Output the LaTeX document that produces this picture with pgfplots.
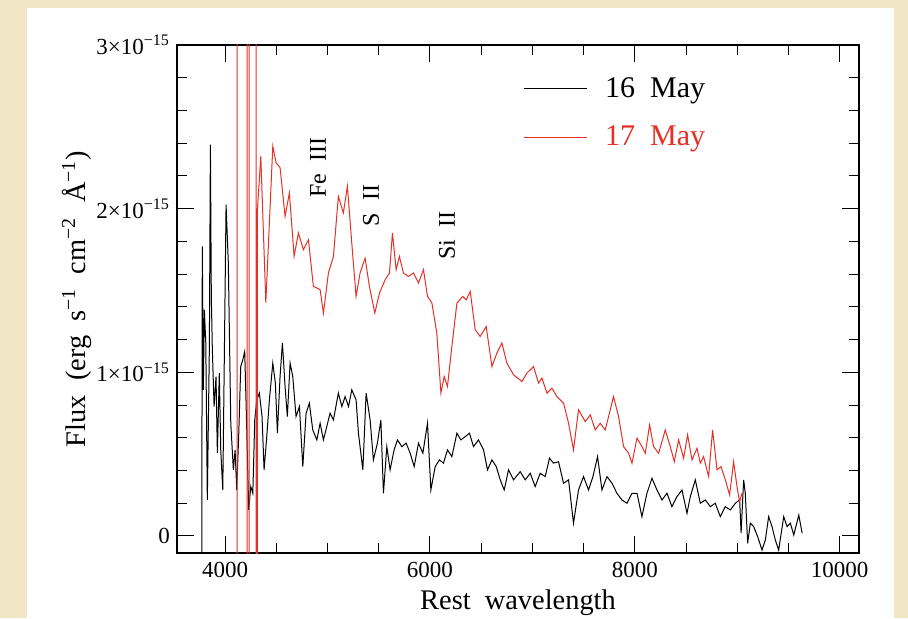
\documentclass[border=0pt]{standalone}
\usepackage{fontspec}
\setmainfont{Liberation Serif}
\usepackage{pgfplots}
\pgfplotsset{compat=1.18}
\definecolor{specred}{RGB}{228,48,38}
\definecolor{beige}{HTML}{F1E7C6}

\begin{document}
\begin{tikzpicture}
\useasboundingbox (0,0) rectangle (454pt,309pt);
\fill[beige] (0,0) rectangle (454pt,309pt);
\fill[white] (13.4pt,0) rectangle (447pt,305pt);
\begin{axis}[
    at={(88.5pt,32.5pt)}, anchor=south west,
    scale only axis,
    width=341pt, height=254pt,
    xmin=3531, xmax=10188,
    ymin=-0.104, ymax=3.0,
    xtick={4000,6000,8000,10000},
    scaled x ticks=false,
    minor x tick num=3,
    ytick={0,1,2,3},
    yticklabels={0, 1×10\textsuperscript{−15}, 2×10\textsuperscript{−15}, 3×10\textsuperscript{−15}},
    minor y tick num=4,
    tick align=inside,
    major tick length=8.5pt,
    minor tick length=5pt,
    every tick/.style={black, line width=0.5pt},
    axis line style={line width=0.6pt},
    /pgf/number format/assume math mode=true,
    /pgf/number format/1000 sep={},
    tick label style={font=\fontsize{11.5}{13}\selectfont},
    xticklabel style={yshift=-1pt},
    xlabel={Rest\ \ wavelength},
    ylabel={Flux\ \ (erg\ \ s\textsuperscript{−1}\ \ cm\textsuperscript{−2}\ \ Å\textsuperscript{−1})},
    every axis x label/.style={at={(axis description cs:0.5,-0.097)}, anchor=center,
        font=\fontsize{14.2}{16}\selectfont},
    every axis y label/.style={at={(axis description cs:-0.147,0.5)}, anchor=center, rotate=90,
        font=\fontsize{14.2}{16}\selectfont},
    legend style={at={(axis description cs:0.507,0.945)}, anchor=north west, draw=none, fill=none,
        font=\fontsize{15}{17}\selectfont, row sep=9pt, inner xsep=0pt, inner ysep=0pt},
    legend cell align=left,
    legend image code/.code={\draw[#1] (0pt,0pt) -- (31.5pt,0pt); \path (38.5pt,0pt);},
]
\addplot[black, line width=0.5pt] coordinates {
(3772,-0.3) (3778,1.769) (3788,0.893) (3798,1.382) (3812,1.179) (3827,0.220) (3847,1.158)
(3857,2.391) (3866,1.464) (3876,1.138) (3893,0.791) (3912,0.974) (3925,0.506) (3944,0.995)
(3958,0.526) (3978,0.281) (3990,0.934) (4010,2.024) (4032,1.668) (4056,0.689) (4081,0.404)
(4098,0.526) (4114,0.281) (4134,0.628) (4153,1.035) (4173,1.076) (4192,1.127) (4212,0.648)
(4231,0.159) (4251,0.302) (4271,0.261) (4290,0.709) (4310,0.832) (4335,0.873) (4361,0.730)
(4381,0.404) (4407,0.607) (4433,0.832) (4466,1.056) (4491,0.934) (4511,0.628) (4537,0.974)
(4560,1.179) (4586,0.913) (4608,0.730) (4635,1.056) (4661,0.974) (4693,0.730) (4726,0.791)
(4759,0.424) (4791,0.750) (4823,0.812) (4856,0.648) (4896,0.587) (4928,0.689) (4960,0.587)
(4993,0.669) (5025,0.750) (5058,0.709) (5106,0.873) (5140,0.791) (5172,0.852) (5205,0.791)
(5237,0.893) (5279,0.832) (5302,0.628) (5345,0.404) (5377,0.873) (5416,0.709) (5448,0.465)
(5487,0.567) (5521,0.709) (5546,0.261) (5579,0.546) (5611,0.404) (5650,0.526) (5683,0.587)
(5726,0.546) (5768,0.567) (5807,0.506) (5846,0.424) (5888,0.567) (5931,0.506) (5976,0.689)
(6009,0.281) (6051,0.424) (6093,0.465) (6132,0.445) (6171,0.526) (6214,0.485) (6263,0.628)
(6302,0.587) (6344,0.607) (6386,0.628) (6425,0.546) (6474,0.587) (6523,0.526) (6562,0.404)
(6605,0.465) (6647,0.424) (6686,0.343) (6725,0.281) (6767,0.404) (6816,0.343) (6881,0.393)
(6930,0.343) (6979,0.383) (7027,0.302) (7076,0.383) (7125,0.363) (7167,0.475) (7206,0.445)
(7255,0.454) (7304,0.322) (7353,0.343) (7401,0.078) (7450,0.281) (7499,0.363) (7548,0.281)
(7591,0.363) (7636,0.485) (7679,0.281) (7728,0.363) (7777,0.322) (7825,0.261) (7874,0.220)
(7923,0.200) (7972,0.261) (8021,0.261) (8069,0.118) (8118,0.261) (8167,0.353) (8216,0.281)
(8265,0.220) (8314,0.261) (8362,0.179) (8411,0.240) (8460,0.281) (8509,0.139) (8541,0.240)
(8590,0.343) (8639,0.200) (8688,0.220) (8737,0.179) (8785,0.200) (8834,0.118) (8883,0.179)
(8932,0.159) (8981,0.200) (9023,0.220) (9037,0.017) (9062,0.343) (9078,0.261) (9101,-0.045)
(9127,0.078) (9160,0.057) (9199,-0.004) (9241,-0.086) (9274,-0.024) (9306,0.118) (9339,0.057)
(9371,-0.024) (9404,-0.086) (9453,0.118) (9486,0.057) (9518,0.078) (9551,0.006) (9600,0.128)
(9633,0.017)
};
\addplot[specred, line width=0.5pt] coordinates {
(4117,-5) (4117,5) (4215,5) (4215,-5) (4234,-5) (4234,5) (4303,5) (4303,-5) (4314,-5)
(4316,1.994) (4349,2.320) (4398,1.425) (4466,2.381) (4498,2.281) (4537,2.251) (4586,1.953)
(4628,2.096) (4674,1.708) (4716,1.851) (4765,1.749) (4814,1.810) (4862,1.525) (4928,1.505)
(4960,1.362) (5009,1.607) (5058,1.708) (5106,2.075) (5155,1.974) (5194,2.136) (5237,1.790)
(5279,1.464) (5318,1.607) (5367,1.698) (5409,1.525) (5462,1.362) (5507,1.484) (5563,1.566)
(5605,1.607) (5634,1.851) (5670,1.627) (5702,1.708) (5741,1.607) (5790,1.586) (5839,1.607)
(5888,1.546) (5937,1.627) (5976,1.464) (6019,1.423) (6067,1.240) (6107,0.873) (6139,0.974)
(6171,0.913) (6214,1.158) (6263,1.423) (6321,1.464) (6354,1.443) (6393,1.494) (6442,1.260)
(6490,1.219) (6549,1.280) (6605,1.035) (6653,1.117) (6702,1.179) (6751,1.056) (6816,0.985)
(6898,0.944) (6946,0.995) (7011,1.035) (7060,0.934) (7093,0.965) (7142,0.873) (7191,0.903)
(7239,0.852) (7304,0.812) (7353,0.689) (7401,0.526) (7450,0.771) (7516,0.699) (7565,0.740)
(7613,0.648) (7662,0.689) (7711,0.648) (7760,0.771) (7792,0.852) (7841,0.730) (7890,0.546)
(7939,0.506) (7972,0.445) (8021,0.598) (8069,0.546) (8102,0.506) (8144,0.679) (8183,0.546)
(8232,0.506) (8297,0.648) (8346,0.546) (8385,0.454) (8427,0.587) (8476,0.475) (8515,0.618)
(8558,0.465) (8607,0.536) (8639,0.445) (8671,0.485) (8720,0.363) (8759,0.648) (8802,0.404)
(8841,0.424) (8883,0.343) (8925,0.251) (8964,0.454) (8997,0.302) (9022,0.210) (9046,0.261)
};
\legend{16\ \ May, \textcolor{specred}{17\ \ May}}
\node[rotate=90, font=\fontsize{12}{14}\selectfont] at (axis cs:4908,2.25) {Fe\ \ III};
\node[rotate=90, font=\fontsize{12}{14}\selectfont] at (axis cs:5426,2.02) {S\ \ II};
\node[rotate=90, font=\fontsize{12}{14}\selectfont] at (axis cs:6168,1.835) {Si\ \ II};
\end{axis}
\end{tikzpicture}
\end{document}
